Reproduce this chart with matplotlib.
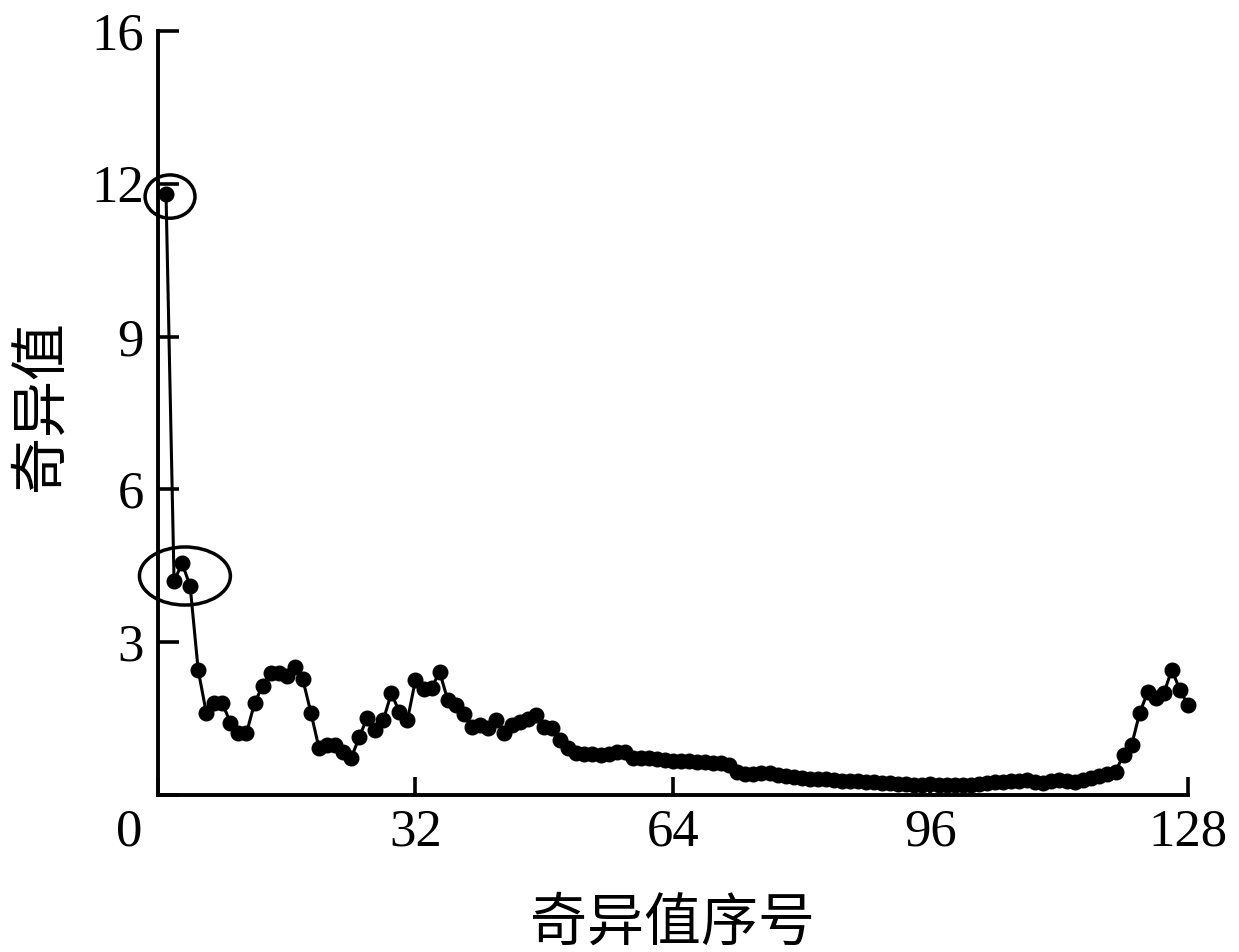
import numpy as np
import matplotlib
matplotlib.use("Agg")
import matplotlib.pyplot as plt
from matplotlib.patches import Ellipse

# singular values, index 1..128
sv_values = [
    11.8, 4.2, 4.55, 4.1, 2.45, 1.62, 1.8, 1.8, 1.42, 1.22,
    1.22, 1.8, 2.15, 2.4, 2.4, 2.33, 2.52, 2.27, 1.62, 0.93,
    0.98, 0.98, 0.85, 0.72, 1.13, 1.52, 1.28, 1.47, 2.0, 1.63,
    1.47, 2.26, 2.08, 2.1, 2.42, 1.87, 1.77, 1.6, 1.34, 1.38,
    1.32, 1.47, 1.22, 1.38, 1.43, 1.5, 1.57, 1.34, 1.32, 1.08,
    0.93, 0.83, 0.8, 0.8, 0.79, 0.8, 0.84, 0.84, 0.73, 0.73,
    0.72, 0.7, 0.68, 0.67, 0.66, 0.66, 0.65, 0.64, 0.63, 0.63,
    0.58, 0.46, 0.42, 0.42, 0.43, 0.43, 0.4, 0.37, 0.35, 0.33,
    0.32, 0.32, 0.31, 0.29, 0.28, 0.27, 0.27, 0.26, 0.25, 0.24,
    0.23, 0.22, 0.21, 0.2, 0.2, 0.21, 0.2, 0.2, 0.2, 0.2,
    0.2, 0.21, 0.23, 0.25, 0.26, 0.27, 0.28, 0.3, 0.26, 0.23,
    0.27, 0.29, 0.27, 0.26, 0.29, 0.33, 0.37, 0.42, 0.46, 0.79,
    0.98, 1.61, 2.02, 1.9, 2.0, 2.46, 2.06, 1.77,
]
sv_index = np.arange(1, len(sv_values) + 1)

x_ticks = [0, 32, 64, 96, 128]
x_ticklabels = ["", "32", "64", "96", "128"]
y_ticks = [0, 3, 6, 9, 12, 15]
y_ticklabels = ["", "3", "6", "9", "12", "16"]

xlabel = "奇异值序号"
ylabel = "奇异值"

serif = ["Liberation Serif", "DejaVu Serif"]
cjk = ["Noto Sans CJK SC", "DejaVu Sans"]

fig = plt.figure(figsize=(12.39, 9.52), dpi=100)
ax = fig.add_axes([0.1275, 0.1649, 0.8313, 0.8025])

ax.plot(sv_index, sv_values, color="black", lw=2.2, marker="o",
        markersize=10.5, clip_on=False, zorder=3)

# circles marking the first singular values
ax.add_patch(Ellipse((1.5, 11.75), 6.2, 0.85, fill=False, lw=2.5,
                     edgecolor="black", clip_on=False))
ax.add_patch(Ellipse((3.35, 4.3), 11.3, 1.14, fill=False, lw=2.5,
                     edgecolor="black", clip_on=False))

ax.set_xlim(0, 128)
ax.set_ylim(0, 15)
ax.spines["top"].set_visible(False)
ax.spines["right"].set_visible(False)
ax.spines["left"].set_linewidth(2.8)
ax.spines["bottom"].set_linewidth(2.8)

ax.set_xticks(x_ticks)
ax.set_xticklabels(x_ticklabels, fontfamily=serif, fontsize=38)
ax.set_yticks(y_ticks)
ax.set_yticklabels(y_ticklabels, fontfamily=serif, fontsize=38)
ax.tick_params(axis="x", direction="in", length=13, width=2.6, pad=10)
ax.tick_params(axis="y", direction="in", length=15, width=2.6, pad=10)

ax.annotate("0", xy=(0, 0), xycoords="data", xytext=(-11, -10),
            textcoords="offset points", ha="right", va="top",
            fontfamily=serif, fontsize=38)

ax.set_xlabel(xlabel, fontfamily=cjk, fontsize=41, va="center")
ax.xaxis.set_label_coords(0.5, -0.168)
ax.set_ylabel(ylabel, fontfamily=cjk, fontsize=41, va="center")
ax.yaxis.set_label_coords(-0.1146, 0.51)

fig.savefig("out.png", dpi=100)
